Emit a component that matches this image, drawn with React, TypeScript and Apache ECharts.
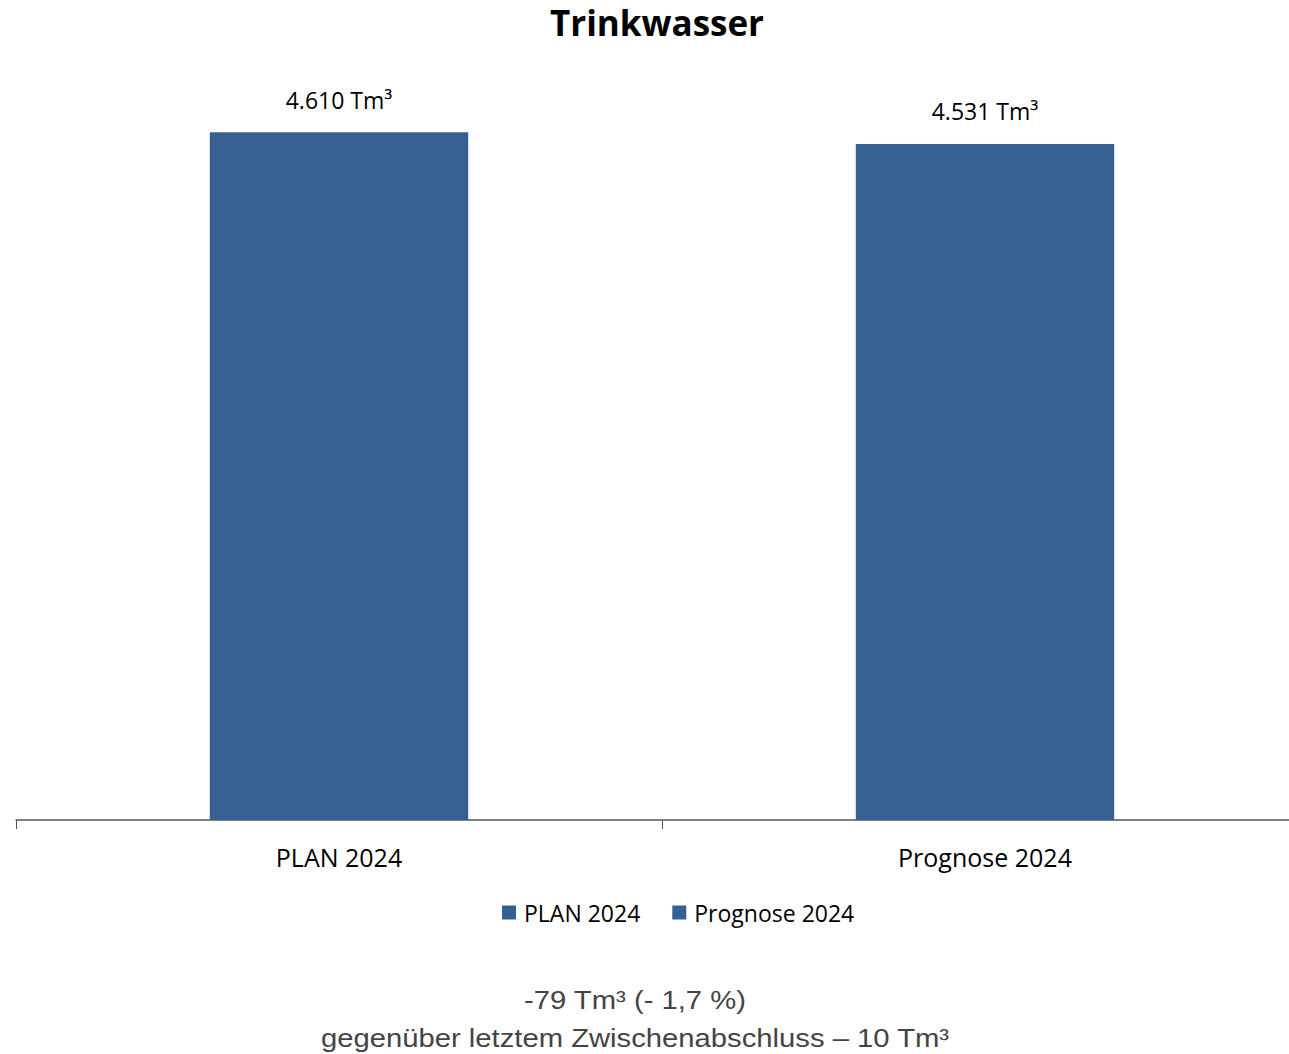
import React, { useEffect, useRef } from "react";
import * as echarts from "echarts";

const categories = ["PLAN 2024", "Prognose 2024"];
const seriesNames = ["PLAN 2024", "Prognose 2024"];
const planValues = [4610, "-"];
const prognoseValues = ["-", 4531];
const footerLines = ["-79 Tm³ (- 1,7 %)", "gegenüber letztem Zwischenabschluss – 10 Tm³"];

const BAR_COLOR = "#366092";
const FONT = "'Open Sans', Lato, sans-serif";
const FOOT_FONT = "'Liberation Sans', Arial, sans-serif";

function fmt(v: number): string {
  return String(v).replace(/\B(?=(\d{3})+(?!\d))/g, ".") + " Tm³";
}

export default function App() {
  const ref = useRef<HTMLDivElement>(null);
  useEffect(() => {
    if (!ref.current) return;
    const chart = echarts.init(ref.current, null, { renderer: "svg" });
    const label = {
      show: true,
      position: "top",
      distance: 21,
      fontFamily: FONT,
      fontSize: 23,
      color: "#000",
      formatter: (p: any) => fmt(p.value),
    };
    chart.setOption({
      animation: false,
      backgroundColor: "#fff",
      title: {
        text: "Trinkwasser",
        left: 545,
        top: 0,
        textStyle: { fontFamily: FONT, fontSize: 35, fontWeight: "bold", color: "#000" },
      },
      grid: { left: 16, right: 0, top: 74, bottom: 234 },
      legend: {
        data: seriesNames,
        top: 896,
        left: 497,
        itemWidth: 14,
        itemHeight: 14,
        itemGap: 32,
        icon: "rect",
        textStyle: { fontFamily: FONT, fontSize: 23, color: "#000", padding: [0, 0, 0, 3] },
      },
      xAxis: {
        type: "category",
        data: categories,
        axisLine: { lineStyle: { color: "#555", width: 1.5 } },
        axisTick: { show: true, length: 9, lineStyle: { color: "#555" } },
        axisLabel: { fontFamily: FONT, fontSize: 25, color: "#000", margin: 24 },
      },
      yAxis: {
        type: "value",
        min: 0,
        max: 5000,
        show: false,
        splitLine: { show: false },
      },
      series: [
        {
          name: seriesNames[0],
          type: "bar",
          stack: "s",
          data: planValues,
          barWidth: "40%",
          itemStyle: { color: BAR_COLOR },
          label,
        },
        {
          name: seriesNames[1],
          type: "bar",
          stack: "s",
          data: prognoseValues,
          barWidth: "40%",
          itemStyle: { color: BAR_COLOR },
          label,
        },
      ],
      graphic: footerLines.map((t, i) => ({
        type: "text",
        x: 635,
        y: 1000 + i * 38,
        scaleX: 1.17,
        style: {
          text: t,
          fontFamily: FOOT_FONT,
          fontSize: 25,
          fill: "#444",
          align: "center",
          verticalAlign: "middle",
        },
      })),
    });
    return () => chart.dispose();
  }, []);
  return (
    <div style={{ position: "fixed", left: 0, top: 0, width: 1289, height: 1054, overflow: "hidden" }}>
      <div ref={ref} style={{ width: 1308, height: 1054 }} />
    </div>
  );
}
